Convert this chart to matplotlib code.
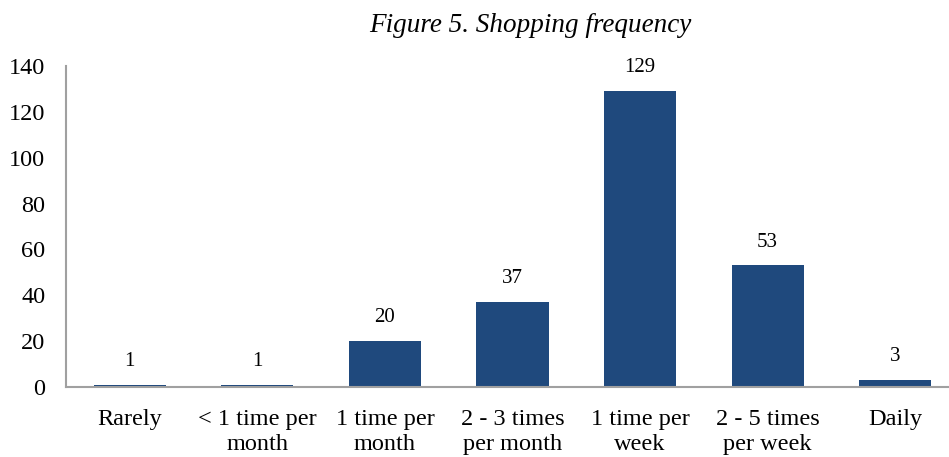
import matplotlib
matplotlib.use("Agg")
import matplotlib.pyplot as plt

categories = ["Rarely", "< 1 time per\nmonth", "1 time per\nmonth", "2 - 3 times\nper month",
              "1 time per\nweek", "2 - 5 times\nper week", "Daily"]
values = [1, 1, 20, 37, 129, 53, 3]
yticks = [0, 20, 40, 60, 80, 100, 120, 140]
title = "Figure 5. Shopping frequency"

plt.rcParams['font.family'] = ['Liberation Serif', 'DejaVu Serif']

W, H = 949, 457
fig = plt.figure(figsize=(W / 100, H / 100), dpi=100)
left, right = 66, 959
bottom, top = 387, 66
ax = fig.add_axes([left / W, (H - bottom) / H, (right - left) / W, (bottom - top) / H])

x = list(range(len(categories)))
color = "#1F497D"
ax.bar(x, values, width=0.565, color=color, zorder=2)
for xi, v in zip(x, values):
    ax.annotate(str(v), (xi, v), xytext=(0, 10), textcoords="offset points",
                ha="center", va="bottom", fontsize=15, color="#000000")

ax.set_xlim(-0.5, len(categories) - 0.5)
ax.set_ylim(0, 140)
ax.set_yticks(yticks)
ax.set_yticklabels([str(t) for t in yticks], fontsize=17.5)
ax.set_xticks(x)
ax.set_xticklabels(categories, fontsize=17.5, linespacing=1.25)
ax.tick_params(axis="both", length=0)
ax.tick_params(axis="y", pad=15)
ax.tick_params(axis="x", pad=16)

for s in ["top", "right"]:
    ax.spines[s].set_visible(False)
for s in ["left", "bottom"]:
    ax.spines[s].set_color("#A0A0A0")
    ax.spines[s].set_linewidth(1.5)

fig.text(530 / W, 1 - 25 / H, title, ha="center", va="center", fontsize=19.5, style="italic")

fig.savefig("out.png", dpi=100)
